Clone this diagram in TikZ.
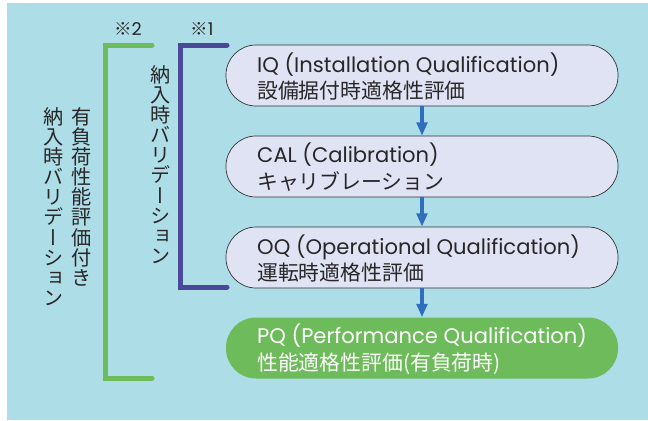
\documentclass[tikz,border=0pt]{standalone}
\usepackage{fontspec}
\setmainfont{Noto Sans CJK JP}
\newfontfamily\vjp[RawFeature=+vert]{Noto Sans CJK JP}
\newfontfamily\lat{Poppins}
\usetikzlibrary{arrows.meta}
\definecolor{bgblue}{RGB}{173,221,231}
\definecolor{boxfill}{RGB}{223,227,243}
\definecolor{boxline}{RGB}{50,50,55}
\definecolor{textgray}{RGB}{40,38,40}
\definecolor{pqgreen}{RGB}{109,187,90}
\definecolor{valpurple}{RGB}{75,72,152}
\definecolor{flowblue}{RGB}{46,110,189}
\newcommand{\eng}[1]{{\lat\fontsize{18}{23}\selectfont #1}}
\tikzset{
  stage/.style={draw=boxline, line width=0.6pt, fill=boxfill, rounded corners=0.9cm,
    minimum width=11.76cm, minimum height=1.83cm, inner sep=0pt},
  stagetext/.style={anchor=west, align=left, text=textgray, inner sep=0pt,
    font=\fontsize{17.8}{23}\selectfont},
  vtext/.style={anchor=north, align=center, text=textgray, inner sep=0pt,
    font=\vjp\fontsize{17.2}{17.2}\selectfont},
  flow/.style={flowblue, line width=0.12cm, -{Triangle[width=0.32cm,length=0.4cm]}},
  bracket/.style={line width=0.15cm, line cap=round}
}
\begin{document}
\begin{tikzpicture}[x=0.03cm,y=-0.03cm]
    \useasboundingbox (0,0) rectangle (648,420);
    \fill [bgblue] (7,3) rectangle (648,420);
    % stages
    \node [stage] (iq) at (422,75.5) {};
    \node [stage] (cal) at (422,166.5) {};
    \node [stage] (oq) at (422,257.5) {};
    \node [stage, draw=none, fill=pqgreen] (pq) at (422,348) {};
    \node [stagetext] (iqt) at (257,76.5) {\eng{IQ (Installation Qualification)}\\設備据付時適格性評価};
    \node [stagetext] (calt) at (257,167.5) {\eng{CAL (Calibration)}\\キャリブレーション};
    \node [stagetext] (oqt) at (257,258.5) {\eng{OQ (Operational Qualification)}\\運転時適格性評価};
    \node [stagetext, text=white] (pqt) at (257,349) {\eng{PQ (Performance Qualification)}\\性能適格性評価(有負荷時)};
    \draw [flow] (iq.south) -- (cal.north);
    \draw [flow] (cal.south) -- (oq.north);
    \draw [flow] (oq.south) -- (pq.north);
    % brackets
    \draw [bracket, valpurple] (227,45) -- (180,45) -- (180,287) -- (227,287);
    \draw [bracket, pqgreen] (152,45) -- (105,45) -- (105,378) -- (152,378);
    \node [text=textgray, font=\fontsize{15}{15}\selectfont] (note1) at (202,29) {※\lat 1};
    \node [text=textgray, font=\fontsize{15}{15}\selectfont] (note2) at (128,29) {※\lat 2};
    \node [vtext] (val1) at (161,65) {納\\入\\時\\バ\\リ\\デ\\ー\\シ\\ョ\\ン};
    \node [vtext] (val2a) at (82,107) {有\\負\\荷\\性\\能\\評\\価\\付\\き};
    \node [vtext] (val2b) at (54,107) {納\\入\\時\\バ\\リ\\デ\\ー\\シ\\ョ\\ン};
\end{tikzpicture}
\end{document}
